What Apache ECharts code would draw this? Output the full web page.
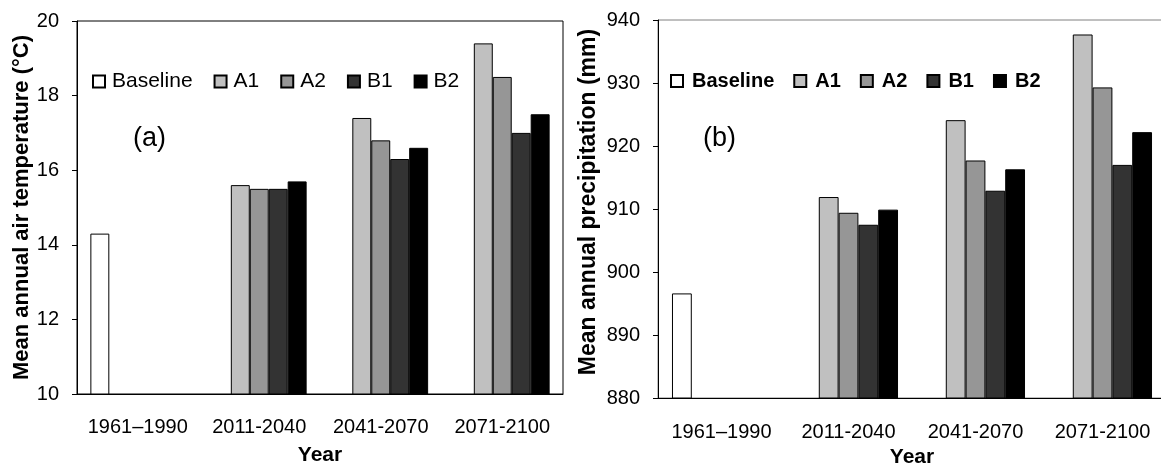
<!DOCTYPE html>
<html>
<head>
<meta charset="utf-8">
<script src="https://cdn.jsdelivr.net/npm/echarts@6/dist/echarts.min.js"></script>
<style>
html, body {
	margin: 0;
	padding: 0;
	background: #fff;
	overflow: hidden;
}
#chart {
	width: 1161px;
	height: 464px;
}
</style>
</head>
<body>
<div id="chart"></div>
<script>
// periods on the x axis
var categories = ['1961–1990', '2011-2040', '2041-2070', '2071-2100'];
var seriesNames = ['Baseline', 'A1', 'A2', 'B1', 'B2'];
var seriesColors = ['#ffffff', '#c0c0c0', '#969696', '#333333', '#000000'];

// (a) mean annual air temperature (°C)
var tempBaseline = [14.3, null, null, null];
var tempA1 = [null, 15.6, 17.4, 19.4];
var tempA2 = [null, 15.5, 16.8, 18.5];
var tempB1 = [null, 15.5, 16.3, 17.0];
var tempB2 = [null, 15.7, 16.6, 17.5];

// (b) mean annual precipitation (mm)
var precBaseline = [896.6, null, null, null];
var precA1 = [null, 911.9, 924.1, 937.7];
var precA2 = [null, 909.4, 917.7, 929.3];
var precB1 = [null, 907.5, 912.9, 917.0];
var precB2 = [null, 909.9, 916.3, 922.2];

var tempTicks = [10, 12, 14, 16, 18, 20];
var precTicks = [880, 890, 900, 910, 920, 930, 940];

var font = "'Liberation Sans', Arial, sans-serif";

function makeSeries(dataList, axisIndex) {
	var list = [];
	for (var i = 0; i < dataList.length; i++) {
		list.push({
			name: seriesNames[i],
			type: 'bar',
			xAxisIndex: axisIndex,
			yAxisIndex: axisIndex,
			barGap: 0,
			barCategoryGap: '22%',
			itemStyle: {
				color: seriesColors[i],
				borderColor: '#000',
				borderWidth: 1
			},
			data: dataList[i]
		});
	}
	return list;
}

function xAxisOf(gridIndex, nameGap, labelMargin) {
	return {
		type: 'category',
		gridIndex: gridIndex,
		data: categories,
		name: 'Year',
		nameLocation: 'middle',
		nameGap: nameGap,
		nameTextStyle: { fontFamily: font, fontSize: 21, fontWeight: 'bold', color: '#000' },
		axisLine: { lineStyle: { color: '#000', width: 1 } },
		axisTick: { inside: true, interval: 0, length: 7, lineStyle: { color: '#666' } },
		axisLabel: { interval: 0, fontFamily: font, fontSize: 20, color: '#000', margin: labelMargin }
	};
}

function yAxisOf(gridIndex, ticks, name, nameGap, nameSize, namePad) {
	return {
		type: 'value',
		gridIndex: gridIndex,
		min: ticks[0],
		max: ticks[ticks.length - 1],
		interval: ticks[1] - ticks[0],
		name: name,
		nameLocation: 'middle',
		nameGap: nameGap,
		nameTextStyle: { fontFamily: font, fontSize: nameSize, fontWeight: 'bold', color: '#000', padding: namePad },
		axisLine: { show: true, lineStyle: { color: '#000', width: 1 } },
		axisTick: { show: true, length: 5, lineStyle: { color: '#000' } },
		axisLabel: { fontFamily: font, fontSize: 20, color: '#000', margin: 18 },
		splitLine: { show: false }
	};
}

var chartDom = document.getElementById('chart');
var myChart = echarts.init(chartDom);
var option;

option = {
	animation: false,
	backgroundColor: '#fff',
	grid: [
		{ left: 77, top: 21, width: 486, height: 373, outerBoundsMode: 'none', show: true, borderColor: '#000', borderWidth: 1 },
		{ left: 658, top: 20, width: 508, height: 378, outerBoundsMode: 'none', show: true, borderColor: '#808080', borderWidth: 1 }
	],
	legend: [
		{
			data: seriesNames,
			left: 92,
			top: 71,
			padding: 0,
			icon: 'rect',
			itemWidth: 12,
			itemHeight: 12,
			itemGap: 21,
			textStyle: { fontFamily: font, fontSize: 21, color: '#000', padding: [0, 0, 0, 2] }
		},
		{
			data: seriesNames,
			left: 670,
			top: 71,
			padding: 0,
			icon: 'rect',
			itemWidth: 12,
			itemHeight: 12,
			itemGap: 19,
			textStyle: { fontFamily: font, fontSize: 20, fontWeight: 'bold', color: '#000', padding: [0, 0, 0, 4] }
		}
	],
	xAxis: [
		xAxisOf(0, 51, 23),
		xAxisOf(1, 40, 24)
	],
	yAxis: [
		yAxisOf(0, tempTicks, 'Mean annual air temperature (°C)', 41, 22, [0, 0, 0, 0]),
		yAxisOf(1, precTicks, 'Mean annual precipitation (mm)', 58, 23, [0, 0, 0, 14])
	],
	graphic: [
		{ type: 'text', left: 133, top: 125, style: { text: '(a)', fontFamily: font, fontSize: 27, fill: '#000' } },
		{ type: 'text', left: 703, top: 125, style: { text: '(b)', fontFamily: font, fontSize: 27, fill: '#000' } }
	],
	series: makeSeries([tempBaseline, tempA1, tempA2, tempB1, tempB2], 0)
		.concat(makeSeries([precBaseline, precA1, precA2, precB1, precB2], 1))
};

option && myChart.setOption(option);
</script>
</body>
</html>
